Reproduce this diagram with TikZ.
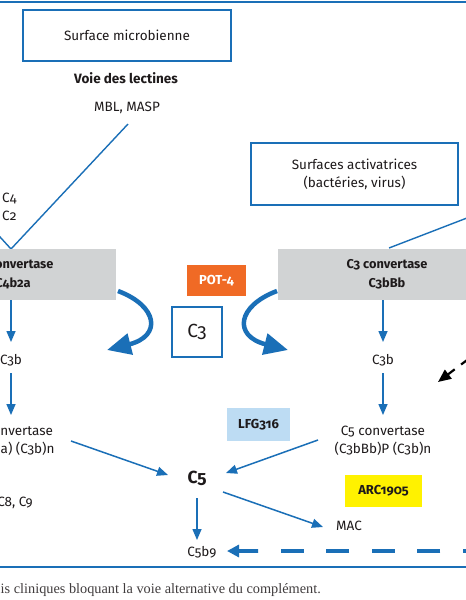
\documentclass[tikz,border=0pt]{standalone}
\usepackage{fontspec}
\setmainfont[Numbers=OldStyle]{Fira Sans}
\newfontfamily\capfont{Liberation Serif}
\usetikzlibrary{arrows.meta}
\definecolor{cblue}{HTML}{1A6FB7}
\definecolor{cgrey}{HTML}{D1D3D4}
\definecolor{corange}{HTML}{F06A25}
\definecolor{clblue}{HTML}{BDDCF3}
\definecolor{cyellow}{HTML}{FFF200}
\definecolor{ctext}{HTML}{1E1A1B}
\tikzset{
  lbl/.style={text=ctext, font=\fontsize{13.5}{18}\selectfont, inner sep=0pt, align=center},
  blbl/.style={lbl, font=\fontsize{13.5}{19}\selectfont\bfseries},
  bluebox/.style={lbl, draw=cblue, line width=1.6pt},
  greybox/.style={lbl, fill=cgrey, font=\fontsize{12.8}{19}\selectfont\bfseries},
  tagbox/.style={blbl, font=\fontsize{13}{16}\selectfont\bfseries},
  thin/.style={draw=cblue, line width=1.4pt},
  smallarrow/.style={draw=cblue, line width=1.5pt, -{Triangle[length=11pt,width=9pt]}},
  bigcurve/.style={draw=cblue, line width=4.5pt, -{Triangle[length=24pt,width=21pt]}},
  dashline/.style={draw=cblue, line width=4pt, dash pattern=on 23pt off 22.6pt},
  dashhead/.style={draw=cblue, line width=4pt, -{Triangle[length=12pt,width=12pt]}},
  blackarrow/.style={draw=black, line width=2.2pt, -{Triangle[length=13pt,width=11pt]}},
  rule/.style={draw=cblue},
}
\begin{document}
\begin{tikzpicture}[x=1pt,y=-1pt]
\useasboundingbox (0,0) rectangle (466,600);
\clip (0,0) rectangle (466,600);
\fill[white] (0,0) rectangle (466,600);

% rules
\draw[rule, line width=2.4pt] (-5,2) -- (471,2);
\draw[rule, line width=1.3pt] (-5,567) -- (471,567);

% top left
\node[bluebox, minimum width=208pt, minimum height=51pt] (sm) at (127,35.5) {Surface microbienne};
\node[blbl] (voie) at (126,78) {Voie des lectines};
\node[lbl] (mbl) at (127,108) {MBL, MASP};
\coordinate (mblend) at (128,124);
\coordinate (apex) at (11,249);
\coordinate (leftin) at (-20,215);
\draw[thin] (mblend) -- (apex) -- (leftin);
\node[lbl, anchor=west] (c4) at (2,198) {C4};
\node[lbl, anchor=west] (c2) at (2,216) {C2};

% grey convertase boxes
\node[greybox, minimum width=206pt, minimum height=51pt] (lgrey) at (13,274.5) {C3 convertase\\C4b2a};
\node[greybox, minimum width=218pt, minimum height=51pt] (rgrey) at (387,274.5) {C3 convertase\\C3bBb};

% activating surfaces
\node[bluebox, minimum width=207pt, minimum height=62pt] (sa) at (354.5,174) {Surfaces activatrices\\(bactéries, virus)};
\coordinate (sain) at (389,248);
\coordinate (saout) at (520,197.6);
\draw[thin] (sain) -- (saout);

% POT-4 and C3
\node[tagbox, fill=corange, text=white, minimum width=59pt, minimum height=31pt] (pot) at (216.5,280.5) {POT-4};
\node[lbl, draw=cblue, line width=1.6pt, minimum width=50pt, minimum height=50pt, font=\fontsize{19}{20}\selectfont] (c3) at (197,332) {C3};

% curved arrows
\coordinate (lcs) at (118,291);
\coordinate (lce) at (107,350);
\draw[bigcurve] (lcs) .. controls (158,306) and (162,336) .. (lce);
\coordinate (rcs) at (277,291);
\coordinate (rce) at (288,350);
\draw[bigcurve] (rcs) .. controls (237,306) and (233,336) .. (rce);

% left column
\node[lbl] (lc3b) at (11,360) {C3b};
\node[lbl] (lc5c) at (11,441) {C5 convertase\\(C4b2a) (C3b)n};
\draw[smallarrow] (11,300) -- (11,342);
\draw[smallarrow] (11,373) -- (11,415);

% right column
\node[lbl] (rc3b) at (383,360) {C3b};
\node[lbl] (rc5c) at (383,441) {C5 convertase\\(C3bBb)P (C3b)n};
\draw[smallarrow] (383,300) -- (383,342);
\draw[smallarrow] (383,373) -- (383,415);

% black arrow fragment
\coordinate (bkstart) at (454.7,369.3);
\coordinate (bktip) at (438,382);
\draw[blackarrow] (bkstart) -- (bktip);
\coordinate (bkd1) at (461.1,364.5);
\coordinate (bkd2) at (470,357.8);
\draw[draw=black, line width=2.2pt] (bkd1) -- (bkd2);

% LFG316
\node[tagbox, fill=clblue, minimum width=63pt, minimum height=33pt] (lfg) at (258.5,424.5) {LFG316};

% C5
\node[lbl, font=\fontsize{17.5}{18}\selectfont\bfseries] (c5) at (197,478) {C5};
\coordinate (lc5s) at (71,441);
\coordinate (lc5t) at (168,475);
\draw[smallarrow] (lc5s) -- (lc5t);
\coordinate (rc5s) at (318,440);
\coordinate (rc5t) at (226,473);
\draw[smallarrow] (rc5s) -- (rc5t);

\node[lbl] (c5b9) at (202,552) {C5b9};
\draw[smallarrow] (197,498) -- (197,540);
\node[lbl] (mac) at (349,526) {MAC};
\coordinate (macs) at (223,492);
\coordinate (mact) at (323,527);
\draw[smallarrow] (macs) -- (mact);

\node[lbl, anchor=east] (c89) at (33,503) {C7, C8, C9};

% ARC1905
\node[tagbox, fill=cyellow, minimum width=77pt, minimum height=32pt] (arc) at (383.5,491) {ARC1905};

% dashed arrow
\coordinate (dstart) at (486,551);
\coordinate (dmid) at (258,551);
\coordinate (dtip) at (227,551);
\draw[dashline] (dstart) -- (dmid);
\draw[dashhead] (dmid) -- (dtip);

% caption
\node[text=ctext!85, inner sep=0pt, anchor=base east, font=\capfont\fontsize{14.3}{16}\selectfont] (cap) at (321,593) {is cliniques bloquant la voie alternative du complément.};
\end{tikzpicture}
\end{document}
